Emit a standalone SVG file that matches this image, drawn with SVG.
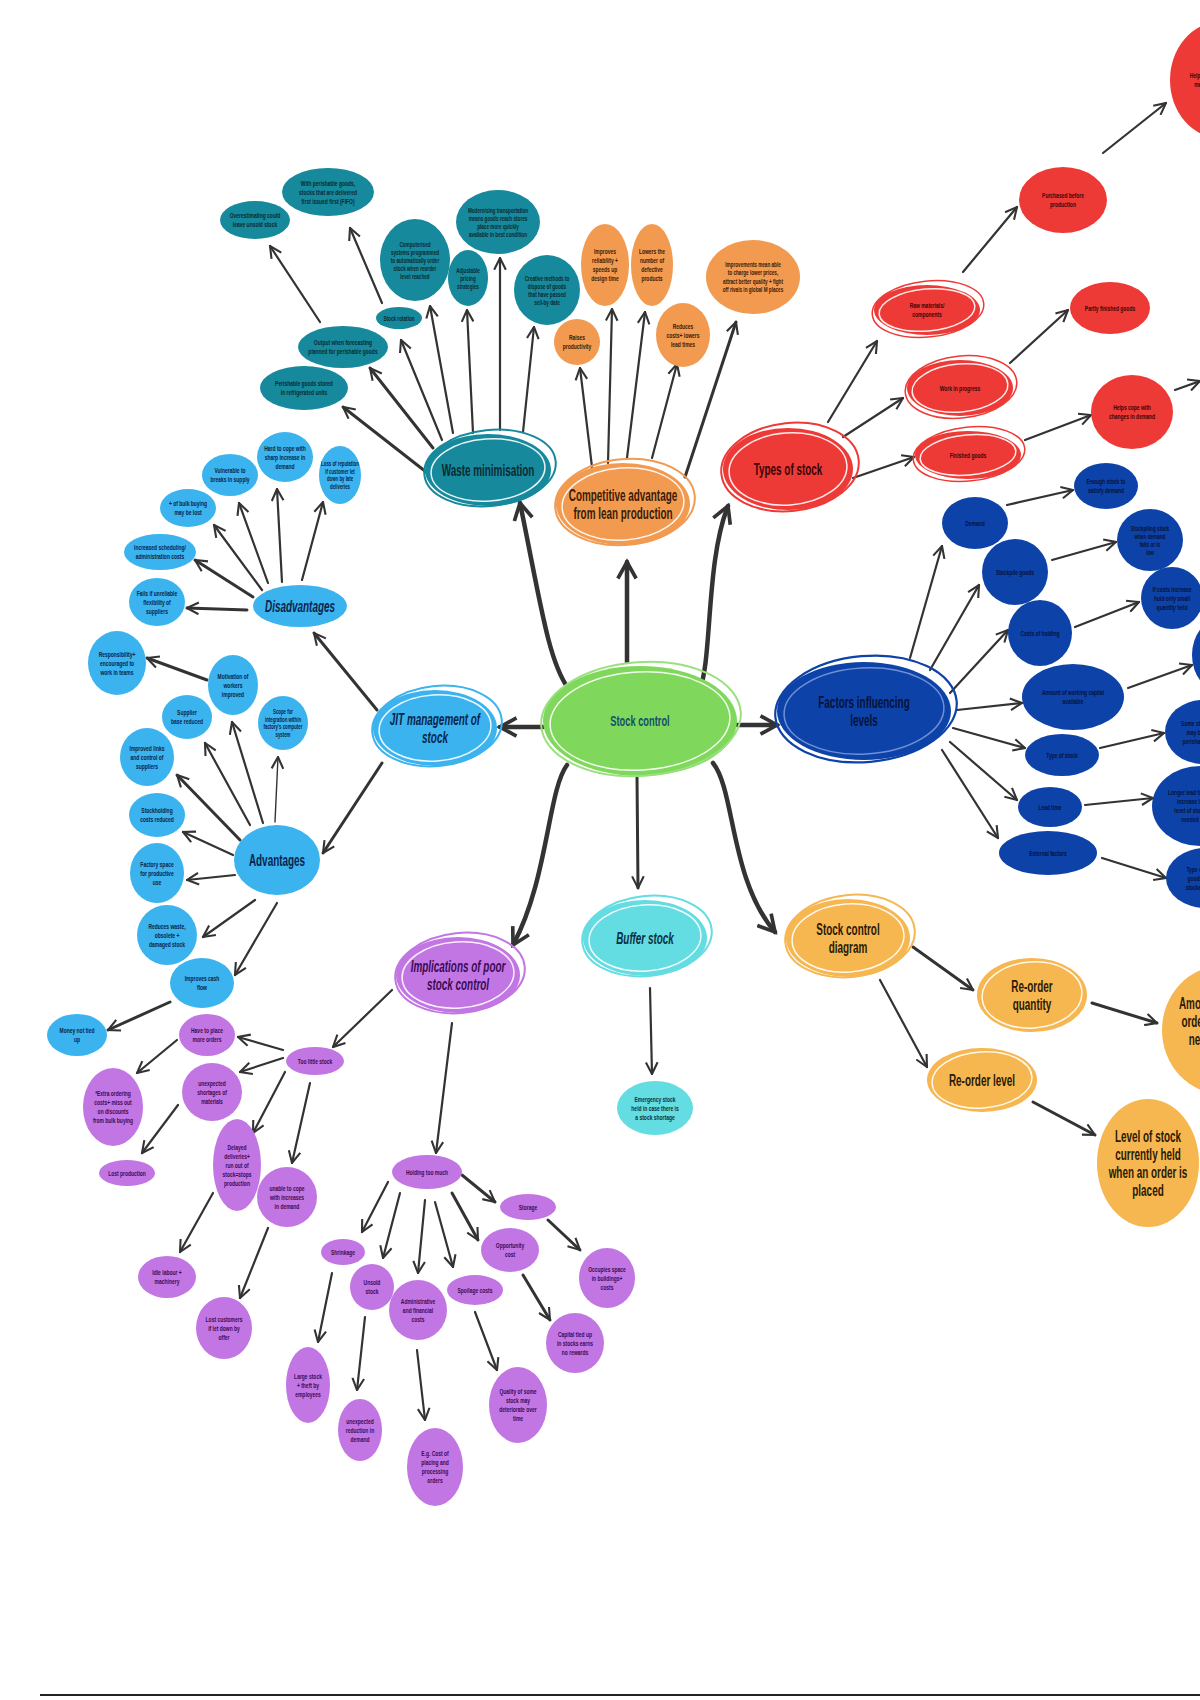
<svg xmlns="http://www.w3.org/2000/svg" width="1200" height="1700" viewBox="0 0 1200 1700">
<defs>
<marker id="ah" viewBox="0 0 12 12" refX="11" refY="6" markerWidth="14" markerHeight="14" markerUnits="userSpaceOnUse" orient="auto"><path d="M1,1 L11,6 L1,11" fill="none" stroke="#333" stroke-width="1.8"/></marker>
<marker id="ahL" viewBox="0 0 12 12" refX="10" refY="6" markerWidth="22" markerHeight="22" markerUnits="userSpaceOnUse" orient="auto"><path d="M1,1 L10,6 L1,11" fill="none" stroke="#333" stroke-width="2"/></marker>
<style>
text{font-family:"Liberation Sans",Arial,sans-serif;font-weight:bold;text-anchor:middle;}
.c{fill:none;stroke:#333;stroke-width:2.2;stroke-linecap:round;marker-end:url(#ah);}
.c3{fill:none;stroke:#333;stroke-width:3;stroke-linecap:round;marker-end:url(#ah);}
.ck{fill:none;stroke:#333;stroke-width:4.5;stroke-linecap:round;marker-end:url(#ahL);}
.teal{fill:#16899c}.tT{fill:#0b2a33}
.or{fill:#f29a50}.tO{fill:#3a1a05}
.red{fill:#ee3a36}.tR{fill:#3a0505}
.navy{fill:#0d43a8}.tN{fill:#061238}
.lb{fill:#3bb3ef}.tL{fill:#08244a}
.gr{fill:#7fd85c}.tG{fill:#14506a}
.cy{fill:#63dce2}.tC{fill:#0c3040}
.pu{fill:#c276e3}.tP{fill:#3a0a55}
.ye{fill:#f6b650}.tY{fill:#2a1a05}
.wr{fill:none;stroke:#fff;stroke-width:1.5;opacity:0.9}
.f7{font-size:7px}.f75{font-size:7.5px}.f8{font-size:8px}.f15{font-size:15px}.f16{font-size:16px}
.it{font-style:italic}
</style>
</defs>
<rect width="1200" height="1700" fill="#fff"/>

<g id="connectors">
<path class="ck" d="M568,688 C548,660 540,600 520,503"/>
<path class="ck" d="M627,662 L627,562"/>
<path class="ck" d="M700,688 C712,660 706,560 728,506"/>
<path class="ck" d="M543,727 L500,727"/>
<path class="ck" d="M737,725 L777,725"/>
<path class="c3" d="M637,776 L638,888"/>
<path class="ck" d="M567,765 C548,790 548,880 513,945"/>
<path class="ck" d="M713,763 C735,790 730,880 775,932"/>
<path class="c" d="M650,988 L652,1074"/>
<path class="c3" d="M430,475 L343,407"/>
<path class="c3" d="M433,448 L370,368"/>
<path class="c" d="M442,440 L401,340"/>
<path class="c" d="M453,433 L430,306"/>
<path class="c" d="M473,433 L467,310"/>
<path class="c" d="M500,430 L500,258"/>
<path class="c" d="M523,432 L534,327"/>
<path class="c" d="M320,322 L270,246"/>
<path class="c" d="M382,303 L350,228"/>
<path class="c" d="M592,467 L580,368"/>
<path class="c" d="M608,463 L612,309"/>
<path class="c" d="M627,458 L645,312"/>
<path class="c" d="M652,458 L677,364"/>
<path class="c3" d="M685,477 L736,322"/>
<path class="c" d="M828,422 L877,341"/>
<path class="c" d="M843,437 L903,398"/>
<path class="c" d="M853,478 L914,457"/>
<path class="c" d="M963,272 L1017,207"/>
<path class="c" d="M1103,153 L1166,103"/>
<path class="c" d="M1010,363 L1068,310"/>
<path class="c" d="M1025,440 L1091,415"/>
<path class="c" d="M1175,390 L1200,381"/>
<path class="c" d="M910,658 L942,546"/>
<path class="c" d="M930,670 L979,585"/>
<path class="c" d="M950,693 L1008,630"/>
<path class="c" d="M957,710 L1022,703"/>
<path class="c" d="M953,728 L1025,748"/>
<path class="c" d="M950,742 L1017,800"/>
<path class="c" d="M942,750 L998,838"/>
<path class="c" d="M1007,505 L1073,490"/>
<path class="c" d="M1052,560 L1116,542"/>
<path class="c" d="M1075,627 L1139,602"/>
<path class="c" d="M1128,688 L1192,665"/>
<path class="c" d="M1100,748 L1164,733"/>
<path class="c" d="M1085,805 L1153,798"/>
<path class="c" d="M1102,858 L1166,878"/>
<path class="c3" d="M377,710 L314,633"/>
<path class="c3" d="M382,763 L323,853"/>
<path class="c3" d="M247,610 L187,608"/>
<path class="c3" d="M253,597 L195,560"/>
<path class="c" d="M262,590 L214,525"/>
<path class="c" d="M268,583 L239,503"/>
<path class="c" d="M282,582 L277,489"/>
<path class="c" d="M302,580 L323,502"/>
<path class="c3" d="M207,680 L147,658"/>
<path class="c" d="M263,823 L232,722"/>
<path class="c" d="M275,822 L278,757" style="stroke-width:1.4"/>
<path class="c" d="M250,825 L205,743"/>
<path class="c3" d="M240,840 L177,775"/>
<path class="c" d="M233,855 L183,832"/>
<path class="c" d="M235,875 L187,880"/>
<path class="c" d="M255,900 L203,937"/>
<path class="c" d="M277,903 L235,975"/>
<path class="c3" d="M170,1002 L108,1030"/>
<path class="c" d="M392,990 L333,1047"/>
<path class="c" d="M452,1023 L436,1153"/>
<path class="c" d="M283,1050 L238,1037"/>
<path class="c" d="M283,1058 L240,1072"/>
<path class="c" d="M285,1072 L253,1133"/>
<path class="c" d="M310,1083 L292,1163"/>
<path class="c" d="M177,1040 L137,1073"/>
<path class="c" d="M178,1105 L142,1153"/>
<path class="c" d="M213,1193 L180,1252"/>
<path class="c" d="M268,1228 L240,1298"/>
<path class="c" d="M388,1182 L362,1232"/>
<path class="c" d="M400,1193 L383,1258"/>
<path class="c" d="M425,1200 L418,1273"/>
<path class="c" d="M435,1202 L453,1267"/>
<path class="c3" d="M452,1193 L478,1240"/>
<path class="c3" d="M462,1175 L495,1202"/>
<path class="c3" d="M548,1220 L580,1250"/>
<path class="c3" d="M523,1275 L550,1320"/>
<path class="c" d="M332,1273 L318,1342"/>
<path class="c" d="M365,1317 L357,1390"/>
<path class="c" d="M417,1350 L425,1420"/>
<path class="c" d="M475,1312 L497,1370"/>
<path class="c3" d="M913,947 L973,990"/>
<path class="c" d="M880,980 L927,1067"/>
<path class="c3" d="M1092,1003 L1157,1023"/>
<path class="c3" d="M1033,1102 L1095,1135"/>
</g>

<g id="stock-control">
<ellipse cx="640" cy="721" rx="97" ry="55" class="gr"/>
<ellipse cx="640" cy="721" rx="90" ry="49" class="wr" transform="rotate(-3 640 721)"/>
<ellipse cx="641" cy="719" rx="100" ry="57" fill="none" stroke="#9be07e" stroke-width="2" transform="rotate(-4 641 719)"/>
<text transform="translate(640,0) scale(.62,1)" class="f15 tG"><tspan x="0" y="726">Stock control</tspan></text>
</g>

<g id="waste-minimisation">
<ellipse cx="488" cy="470" rx="63" ry="36" class="teal"/>
<ellipse cx="488" cy="470" rx="57" ry="31" class="wr" transform="rotate(-4 488 470)"/>
<ellipse cx="490" cy="468" rx="66" ry="38" fill="none" stroke="#16899c" stroke-width="2" transform="rotate(-6 490 468)"/>
<text transform="translate(488,0) scale(.62,1)" class="f16 tT"><tspan x="0" y="476">Waste minimisation</tspan></text>
</g>
<g id="w1"><ellipse cx="304" cy="388" rx="44" ry="22" class="teal"/><text transform="translate(304,0) scale(.62,1)" class="f8 tT"><tspan x="0" y="386.5">Perishable goods stored</tspan><tspan x="0" y="395.5">in refrigerated units</tspan></text></g>
<g id="w2"><ellipse cx="343" cy="347" rx="45" ry="21" class="teal"/><text transform="translate(343,0) scale(.62,1)" class="f8 tT"><tspan x="0" y="345.5">Output when forecasting</tspan><tspan x="0" y="354.5">planned for perishable goods</tspan></text></g>
<g id="w3"><ellipse cx="399" cy="318" rx="23" ry="11" class="teal"/><text transform="translate(399,0) scale(.62,1)" class="f75 tT"><tspan x="0" y="321">Stock rotation</tspan></text></g>
<g id="w4"><ellipse cx="255" cy="220" rx="35" ry="19" class="teal"/><text transform="translate(255,0) scale(.62,1)" class="f8 tT"><tspan x="0" y="218.5">Overestimating could</tspan><tspan x="0" y="227.5">leave unsold stock</tspan></text></g>
<g id="w5"><ellipse cx="328" cy="192" rx="46" ry="24" class="teal"/><text transform="translate(328,0) scale(.62,1)" class="f8 tT"><tspan x="0" y="186">With perishable goods,</tspan><tspan x="0" y="195">stocks that are delivered</tspan><tspan x="0" y="204">first issued first (FIFO)</tspan></text></g>
<g id="w6"><ellipse cx="415" cy="260" rx="35" ry="41" class="teal"/><text transform="translate(415,0) scale(.62,1)" class="f75 tT"><tspan x="0" y="247">Computerised</tspan><tspan x="0" y="255">systems programmed</tspan><tspan x="0" y="263">to automatically order</tspan><tspan x="0" y="271">stock when reorder</tspan><tspan x="0" y="279">level reached</tspan></text></g>
<g id="w7"><ellipse cx="468" cy="278" rx="20" ry="28" class="teal"/><text transform="translate(468,0) scale(.62,1)" class="f75 tT"><tspan x="0" y="272.6">Adjustable</tspan><tspan x="0" y="280.6">pricing</tspan><tspan x="0" y="288.6">strategies</tspan></text></g>
<g id="w8"><ellipse cx="498" cy="222" rx="42" ry="32" class="teal"/><text transform="translate(498,0) scale(.62,1)" class="f75 tT"><tspan x="0" y="212.6">Modernising transportation</tspan><tspan x="0" y="220.6">means goods reach stores</tspan><tspan x="0" y="228.6">place more quickly</tspan><tspan x="0" y="236.6">available in best condition</tspan></text></g>
<g id="w9"><ellipse cx="547" cy="290" rx="33" ry="35" class="teal"/><text transform="translate(547,0) scale(.62,1)" class="f75 tT"><tspan x="0" y="280.6">Creative methods to</tspan><tspan x="0" y="288.6">dispose of goods</tspan><tspan x="0" y="296.6">that have passed</tspan><tspan x="0" y="304.6">sell-by date</tspan></text></g>

<g id="competitive-advantage">
<ellipse cx="623" cy="504" rx="67" ry="41" class="or"/>
<ellipse cx="623" cy="504" rx="61" ry="36" class="wr" transform="rotate(-4 623 504)"/>
<ellipse cx="625" cy="502" rx="70" ry="43" fill="none" stroke="#f29a50" stroke-width="2" transform="rotate(-5 625 502)"/>
<text transform="translate(623,0) scale(.62,1)" class="f16 tO"><tspan x="0" y="501">Competitive advantage</tspan><tspan x="0" y="519">from lean production</tspan></text>
</g>
<g id="o1"><ellipse cx="605" cy="265" rx="24" ry="41" class="or"/><text transform="translate(605,0) scale(.62,1)" class="f8 tO"><tspan x="0" y="254.5">Improves</tspan><tspan x="0" y="263.5">reliability +</tspan><tspan x="0" y="272.5">speeds up</tspan><tspan x="0" y="281.5">design time</tspan></text></g>
<g id="o2"><ellipse cx="652" cy="265" rx="21" ry="41" class="or"/><text transform="translate(652,0) scale(.62,1)" class="f8 tO"><tspan x="0" y="254.5">Lowers the</tspan><tspan x="0" y="263.5">number of</tspan><tspan x="0" y="272.5">defective</tspan><tspan x="0" y="281.5">products</tspan></text></g>
<g id="o3"><ellipse cx="577" cy="342" rx="23" ry="23" class="or"/><text transform="translate(577,0) scale(.62,1)" class="f8 tO"><tspan x="0" y="340.5">Raises</tspan><tspan x="0" y="349.5">productivity</tspan></text></g>
<g id="o4"><ellipse cx="683" cy="335" rx="27" ry="32" class="or"/><text transform="translate(683,0) scale(.62,1)" class="f8 tO"><tspan x="0" y="329">Reduces</tspan><tspan x="0" y="338">costs+ lowers</tspan><tspan x="0" y="347">lead times</tspan></text></g>
<g id="o5"><ellipse cx="753" cy="277" rx="47" ry="37" class="or"/><text transform="translate(753,0) scale(.62,1)" class="f75 tO"><tspan x="0" y="266.9">Improvements mean able</tspan><tspan x="0" y="275.4">to charge lower prices,</tspan><tspan x="0" y="283.9">attract better quality + fight</tspan><tspan x="0" y="292.4">off rivals in global M places</tspan></text></g>

<g id="types-of-stock">
<ellipse cx="788" cy="469" rx="65" ry="41" class="red"/>
<ellipse cx="788" cy="469" rx="59" ry="36" class="wr" transform="rotate(-4 788 469)"/>
<ellipse cx="790" cy="467" rx="69" ry="44" fill="none" stroke="#ee3a36" stroke-width="2" transform="rotate(-6 790 467)"/>
<text transform="translate(788,0) scale(.62,1)" class="f16 tR"><tspan x="0" y="475">Types of stock</tspan></text>
</g>
<g id="r1"><ellipse cx="927" cy="310" rx="53" ry="25" class="red"/><ellipse cx="927" cy="310" rx="48" ry="21" class="wr" transform="rotate(-5 927 310)"/><ellipse cx="928" cy="309" rx="56" ry="28" fill="none" stroke="#ee3a36" stroke-width="1.5" transform="rotate(-6 928 309)"/><text transform="translate(927,0) scale(.62,1)" class="f8 tR"><tspan x="0" y="308.5">Raw materials/</tspan><tspan x="0" y="317.5">components</tspan></text></g>
<g id="r2"><ellipse cx="960" cy="388" rx="53" ry="28" class="red"/><ellipse cx="960" cy="388" rx="48" ry="24" class="wr" transform="rotate(-5 960 388)"/><ellipse cx="961" cy="387" rx="56" ry="31" fill="none" stroke="#ee3a36" stroke-width="1.5" transform="rotate(-6 961 387)"/><text transform="translate(960,0) scale(.62,1)" class="f8 tR"><tspan x="0" y="391">Work in progress</tspan></text></g>
<g id="r3"><ellipse cx="968" cy="455" rx="53" ry="24" class="red"/><ellipse cx="968" cy="455" rx="48" ry="20" class="wr" transform="rotate(-5 968 455)"/><ellipse cx="969" cy="454" rx="56" ry="27" fill="none" stroke="#ee3a36" stroke-width="1.5" transform="rotate(-6 969 454)"/><text transform="translate(968,0) scale(.62,1)" class="f8 tR"><tspan x="0" y="458">Finished goods</tspan></text></g>
<g id="r4"><ellipse cx="1063" cy="200" rx="44" ry="33" class="red"/><text transform="translate(1063,0) scale(.62,1)" class="f8 tR"><tspan x="0" y="198.5">Purchased before</tspan><tspan x="0" y="207.5">production</tspan></text></g>
<g id="r5"><ellipse cx="1110" cy="308" rx="40" ry="26" class="red"/><text transform="translate(1110,0) scale(.62,1)" class="f8 tR"><tspan x="0" y="311">Partly finished goods</tspan></text></g>
<g id="r6"><ellipse cx="1132" cy="412" rx="41" ry="37" class="red"/><text transform="translate(1132,0) scale(.62,1)" class="f8 tR"><tspan x="0" y="410.5">Helps cope with</tspan><tspan x="0" y="419.5">changes in demand</tspan></text></g>
<g id="r7"><ellipse cx="1220" cy="80" rx="50" ry="58" class="red"/><text transform="translate(1210,0) scale(.62,1)" class="f8 tR"><tspan x="0" y="78.5">Helps production</tspan><tspan x="0" y="87.5">maintain flow</tspan></text></g>

<g id="factors-influencing">
<ellipse cx="864" cy="711" rx="87" ry="49" class="navy"/>
<ellipse cx="864" cy="711" rx="80" ry="43" fill="none" stroke="#6f8fd6" stroke-width="1.5" transform="rotate(-3 864 711)"/>
<ellipse cx="866" cy="709" rx="91" ry="53" fill="none" stroke="#0d43a8" stroke-width="2.2" transform="rotate(-5 866 709)"/>
<text transform="translate(864,0) scale(.62,1)" class="f16 tN"><tspan x="0" y="708">Factors influencing</tspan><tspan x="0" y="726">levels</tspan></text>
</g>
<g id="b1"><ellipse cx="975" cy="523" rx="33" ry="26" class="navy"/><text transform="translate(975,0) scale(.62,1)" class="f8 tN"><tspan x="0" y="526">Demand</tspan></text></g>
<g id="b2"><ellipse cx="1015" cy="572" rx="33" ry="33" class="navy"/><text transform="translate(1015,0) scale(.62,1)" class="f8 tN"><tspan x="0" y="575">Stockpile goods</tspan></text></g>
<g id="b3"><ellipse cx="1040" cy="633" rx="32" ry="33" class="navy"/><text transform="translate(1040,0) scale(.62,1)" class="f8 tN"><tspan x="0" y="636">Costs of holding</tspan></text></g>
<g id="b4"><ellipse cx="1073" cy="697" rx="51" ry="33" class="navy"/><text transform="translate(1073,0) scale(.62,1)" class="f8 tN"><tspan x="0" y="695.5">Amount of working capital</tspan><tspan x="0" y="704.5">available</tspan></text></g>
<g id="b5"><ellipse cx="1062" cy="755" rx="37" ry="21" class="navy"/><text transform="translate(1062,0) scale(.62,1)" class="f8 tN"><tspan x="0" y="758">Type of stock</tspan></text></g>
<g id="b6"><ellipse cx="1050" cy="807" rx="32" ry="20" class="navy"/><text transform="translate(1050,0) scale(.62,1)" class="f8 tN"><tspan x="0" y="810">Lead time</tspan></text></g>
<g id="b7"><ellipse cx="1048" cy="853" rx="49" ry="22" class="navy"/><text transform="translate(1048,0) scale(.62,1)" class="f8 tN"><tspan x="0" y="856">External factors</tspan></text></g>
<g id="b8"><ellipse cx="1106" cy="486" rx="32" ry="23" class="navy"/><text transform="translate(1106,0) scale(.62,1)" class="f8 tN"><tspan x="0" y="484.5">Enough stock to</tspan><tspan x="0" y="493.5">satisfy demand</tspan></text></g>
<g id="b9"><ellipse cx="1150" cy="540" rx="33" ry="31" class="navy"/><text transform="translate(1150,0) scale(.62,1)" class="f75 tN"><tspan x="0" y="530.6">Stockpiling stock</tspan><tspan x="0" y="538.6">when demand</tspan><tspan x="0" y="546.6">falls or is</tspan><tspan x="0" y="554.6">low</tspan></text></g>
<g id="b10"><ellipse cx="1172" cy="598" rx="31" ry="31" class="navy"/><text transform="translate(1172,0) scale(.62,1)" class="f8 tN"><tspan x="0" y="592">If costs increase</tspan><tspan x="0" y="601">hold only small</tspan><tspan x="0" y="610">quantity held</tspan></text></g>
<g id="b11"><ellipse cx="1222" cy="655" rx="30" ry="37" class="navy"/></g>
<g id="b12"><ellipse cx="1203" cy="732" rx="38" ry="32" class="navy"/><text transform="translate(1195,0) scale(.62,1)" class="f8 tN"><tspan x="0" y="726">Some stock</tspan><tspan x="0" y="735">may be</tspan><tspan x="0" y="744">perishable</tspan></text></g>
<g id="b13"><ellipse cx="1200" cy="806" rx="48" ry="40" class="navy"/><text transform="translate(1190,0) scale(.62,1)" class="f8 tN"><tspan x="0" y="795.5">Longer lead time =</tspan><tspan x="0" y="804.5">increase in</tspan><tspan x="0" y="813.5">level of stock</tspan><tspan x="0" y="822.5">needed</tspan></text></g>
<g id="b14"><ellipse cx="1206" cy="878" rx="40" ry="30" class="navy"/><text transform="translate(1195,0) scale(.62,1)" class="f8 tN"><tspan x="0" y="872">Type of</tspan><tspan x="0" y="881">goods</tspan><tspan x="0" y="890">stocked</tspan></text></g>

<g id="jit">
<ellipse cx="435" cy="728" rx="62" ry="38" class="lb"/>
<ellipse cx="435" cy="728" rx="56" ry="33" class="wr" transform="rotate(-4 435 728)"/>
<ellipse cx="437" cy="726" rx="65" ry="40" fill="none" stroke="#3bb3ef" stroke-width="2" transform="rotate(-6 437 726)"/>
<text transform="translate(435,0) scale(.62,1)" class="f16 tL it"><tspan x="0" y="725">JIT management of</tspan><tspan x="0" y="743">stock</tspan></text>
</g>
<g id="disadvantages"><ellipse cx="300" cy="606" rx="47" ry="21" class="lb"/><text transform="translate(300,0) scale(.62,1)" class="f16 tL it"><tspan x="0" y="612">Disadvantages</tspan></text></g>
<g id="advantages"><ellipse cx="277" cy="860" rx="43" ry="35" class="lb"/><text transform="translate(277,0) scale(.62,1)" class="f16 tL"><tspan x="0" y="866">Advantages</tspan></text></g>
<g id="d1"><ellipse cx="157" cy="602" rx="28" ry="24" class="lb"/><text transform="translate(157,0) scale(.62,1)" class="f8 tL"><tspan x="0" y="596">Fails if unreliable</tspan><tspan x="0" y="605">flexibility of</tspan><tspan x="0" y="614">suppliers</tspan></text></g>
<g id="d2"><ellipse cx="160" cy="552" rx="36" ry="18" class="lb"/><text transform="translate(160,0) scale(.62,1)" class="f8 tL"><tspan x="0" y="550.5">Increased scheduling/</tspan><tspan x="0" y="559.5">administration costs</tspan></text></g>
<g id="d3"><ellipse cx="188" cy="508" rx="28" ry="19" class="lb"/><text transform="translate(188,0) scale(.62,1)" class="f8 tL"><tspan x="0" y="506.5">+ of bulk buying</tspan><tspan x="0" y="515.5">may be lost</tspan></text></g>
<g id="d4"><ellipse cx="230" cy="475" rx="28" ry="21" class="lb"/><text transform="translate(230,0) scale(.62,1)" class="f8 tL"><tspan x="0" y="473.5">Vulnerable to</tspan><tspan x="0" y="482.5">breaks in supply</tspan></text></g>
<g id="d5"><ellipse cx="285" cy="457" rx="28" ry="25" class="lb"/><text transform="translate(285,0) scale(.62,1)" class="f8 tL"><tspan x="0" y="451">Hard to cope with</tspan><tspan x="0" y="460">sharp increase in</tspan><tspan x="0" y="469">demand</tspan></text></g>
<g id="d6"><ellipse cx="340" cy="475" rx="21" ry="29" class="lb"/><text transform="translate(340,0) scale(.62,1)" class="f7 tL"><tspan x="0" y="466.2">Loss of reputation</tspan><tspan x="0" y="473.7">if customer let</tspan><tspan x="0" y="481.2">down by late</tspan><tspan x="0" y="488.7">deliveries</tspan></text></g>
<g id="a1"><ellipse cx="117" cy="663" rx="29" ry="32" class="lb"/><text transform="translate(117,0) scale(.62,1)" class="f8 tL"><tspan x="0" y="657">Responsibility+</tspan><tspan x="0" y="666">encouraged to</tspan><tspan x="0" y="675">work in teams</tspan></text></g>
<g id="a2"><ellipse cx="233" cy="685" rx="25" ry="30" class="lb"/><text transform="translate(233,0) scale(.62,1)" class="f8 tL"><tspan x="0" y="679">Motivation of</tspan><tspan x="0" y="688">workers</tspan><tspan x="0" y="697">improved</tspan></text></g>
<g id="a3"><ellipse cx="283" cy="723" rx="25" ry="27" class="lb"/><text transform="translate(283,0) scale(.62,1)" class="f7 tL"><tspan x="0" y="714.2">Scope for</tspan><tspan x="0" y="721.7">integration within</tspan><tspan x="0" y="729.2">factory's computer</tspan><tspan x="0" y="736.7">system</tspan></text></g>
<g id="a4"><ellipse cx="187" cy="717" rx="25" ry="22" class="lb"/><text transform="translate(187,0) scale(.62,1)" class="f8 tL"><tspan x="0" y="715.5">Supplier</tspan><tspan x="0" y="724.5">base reduced</tspan></text></g>
<g id="a5"><ellipse cx="147" cy="757" rx="27" ry="29" class="lb"/><text transform="translate(147,0) scale(.62,1)" class="f8 tL"><tspan x="0" y="751">Improved links</tspan><tspan x="0" y="760">and control of</tspan><tspan x="0" y="769">suppliers</tspan></text></g>
<g id="a6"><ellipse cx="157" cy="815" rx="28" ry="22" class="lb"/><text transform="translate(157,0) scale(.62,1)" class="f8 tL"><tspan x="0" y="813.5">Stockholding</tspan><tspan x="0" y="822.5">costs reduced</tspan></text></g>
<g id="a7"><ellipse cx="157" cy="873" rx="27" ry="30" class="lb"/><text transform="translate(157,0) scale(.62,1)" class="f8 tL"><tspan x="0" y="867">Factory space</tspan><tspan x="0" y="876">for productive</tspan><tspan x="0" y="885">use</tspan></text></g>
<g id="a8"><ellipse cx="167" cy="935" rx="30" ry="30" class="lb"/><text transform="translate(167,0) scale(.62,1)" class="f8 tL"><tspan x="0" y="929">Reduces waste,</tspan><tspan x="0" y="938">obsolete +</tspan><tspan x="0" y="947">damaged stock</tspan></text></g>
<g id="a9"><ellipse cx="202" cy="983" rx="32" ry="25" class="lb"/><text transform="translate(202,0) scale(.62,1)" class="f8 tL"><tspan x="0" y="981.5">Improves cash</tspan><tspan x="0" y="990.5">flow</tspan></text></g>
<g id="a10"><ellipse cx="77" cy="1035" rx="30" ry="21" class="lb"/><text transform="translate(77,0) scale(.62,1)" class="f8 tL"><tspan x="0" y="1033.5">Money not tied</tspan><tspan x="0" y="1042.5">up</tspan></text></g>

<g id="buffer-stock">
<ellipse cx="645" cy="938" rx="62" ry="38" class="cy"/>
<ellipse cx="645" cy="938" rx="56" ry="33" class="wr" transform="rotate(-4 645 938)"/>
<ellipse cx="647" cy="936" rx="65" ry="40" fill="none" stroke="#63dce2" stroke-width="2" transform="rotate(-6 647 936)"/>
<text transform="translate(645,0) scale(.62,1)" class="f16 tC it"><tspan x="0" y="944">Buffer stock</tspan></text>
</g>
<g id="emergency"><ellipse cx="655" cy="1108" rx="38" ry="27" class="cy"/><text transform="translate(655,0) scale(.62,1)" class="f8 tC"><tspan x="0" y="1102">Emergency stock</tspan><tspan x="0" y="1111">held in case there is</tspan><tspan x="0" y="1120">a stock shortage</tspan></text></g>

<g id="implications">
<ellipse cx="458" cy="975" rx="62" ry="38" class="pu"/>
<ellipse cx="458" cy="975" rx="56" ry="33" class="wr" transform="rotate(-4 458 975)"/>
<ellipse cx="460" cy="973" rx="65" ry="40" fill="none" stroke="#c276e3" stroke-width="2" transform="rotate(-6 460 973)"/>
<text transform="translate(458,0) scale(.62,1)" class="f16 tP it"><tspan x="0" y="972">Implications of poor</tspan><tspan x="0" y="990">stock control</tspan></text>
</g>
<g id="p1"><ellipse cx="315" cy="1061" rx="29" ry="14" class="pu"/><text transform="translate(315,0) scale(.62,1)" class="f8 tP"><tspan x="0" y="1064">Too little stock</tspan></text></g>
<g id="p2"><ellipse cx="207" cy="1035" rx="28" ry="21" class="pu"/><text transform="translate(207,0) scale(.62,1)" class="f8 tP"><tspan x="0" y="1033.5">Have to place</tspan><tspan x="0" y="1042.5">more orders</tspan></text></g>
<g id="p3"><ellipse cx="212" cy="1092" rx="30" ry="29" class="pu"/><text transform="translate(212,0) scale(.62,1)" class="f8 tP"><tspan x="0" y="1086">unexpected</tspan><tspan x="0" y="1095">shortages of</tspan><tspan x="0" y="1104">materials</tspan></text></g>
<g id="p4"><ellipse cx="113" cy="1107" rx="30" ry="39" class="pu"/><text transform="translate(113,0) scale(.62,1)" class="f8 tP"><tspan x="0" y="1096.5">*Extra ordering</tspan><tspan x="0" y="1105.5">costs+ miss out</tspan><tspan x="0" y="1114.5">on discounts</tspan><tspan x="0" y="1123.5">from bulk buying</tspan></text></g>
<g id="p5"><ellipse cx="127" cy="1173" rx="28" ry="13" class="pu"/><text transform="translate(127,0) scale(.62,1)" class="f8 tP"><tspan x="0" y="1176">Lost production</tspan></text></g>
<g id="p6"><ellipse cx="237" cy="1165" rx="24" ry="46" class="pu"/><text transform="translate(237,0) scale(.62,1)" class="f8 tP"><tspan x="0" y="1150">Delayed</tspan><tspan x="0" y="1159">deliveries+</tspan><tspan x="0" y="1168">run out of</tspan><tspan x="0" y="1177">stock=stops</tspan><tspan x="0" y="1186">production</tspan></text></g>
<g id="p7"><ellipse cx="287" cy="1197" rx="30" ry="30" class="pu"/><text transform="translate(287,0) scale(.62,1)" class="f8 tP"><tspan x="0" y="1191">unable to cope</tspan><tspan x="0" y="1200">with increases</tspan><tspan x="0" y="1209">in demand</tspan></text></g>
<g id="p8"><ellipse cx="167" cy="1277" rx="29" ry="21" class="pu"/><text transform="translate(167,0) scale(.62,1)" class="f8 tP"><tspan x="0" y="1275.5">Idle labour +</tspan><tspan x="0" y="1284.5">machinery</tspan></text></g>
<g id="p9"><ellipse cx="224" cy="1328" rx="28" ry="31" class="pu"/><text transform="translate(224,0) scale(.62,1)" class="f8 tP"><tspan x="0" y="1322">Lost customers</tspan><tspan x="0" y="1331">if let down by</tspan><tspan x="0" y="1340">offer</tspan></text></g>
<g id="holding"><ellipse cx="427" cy="1172" rx="35" ry="17" class="pu"/><text transform="translate(427,0) scale(.62,1)" class="f8 tP"><tspan x="0" y="1175">Holding too much</tspan></text></g>
<g id="h1"><ellipse cx="528" cy="1207" rx="28" ry="13" class="pu"/><text transform="translate(528,0) scale(.62,1)" class="f8 tP"><tspan x="0" y="1210">Storage</tspan></text></g>
<g id="h2"><ellipse cx="343" cy="1252" rx="22" ry="13" class="pu"/><text transform="translate(343,0) scale(.62,1)" class="f8 tP"><tspan x="0" y="1255">Shrinkage</tspan></text></g>
<g id="h3"><ellipse cx="372" cy="1287" rx="22" ry="23" class="pu"/><text transform="translate(372,0) scale(.62,1)" class="f8 tP"><tspan x="0" y="1285.5">Unsold</tspan><tspan x="0" y="1294.5">stock</tspan></text></g>
<g id="h4"><ellipse cx="418" cy="1310" rx="29" ry="30" class="pu"/><text transform="translate(418,0) scale(.62,1)" class="f8 tP"><tspan x="0" y="1304">Administrative</tspan><tspan x="0" y="1313">and financial</tspan><tspan x="0" y="1322">costs</tspan></text></g>
<g id="h5"><ellipse cx="475" cy="1290" rx="28" ry="15" class="pu"/><text transform="translate(475,0) scale(.62,1)" class="f8 tP"><tspan x="0" y="1293">Spoilage costs</tspan></text></g>
<g id="h6"><ellipse cx="510" cy="1250" rx="29" ry="22" class="pu"/><text transform="translate(510,0) scale(.62,1)" class="f8 tP"><tspan x="0" y="1248.5">Opportunity</tspan><tspan x="0" y="1257.5">cost</tspan></text></g>
<g id="h7"><ellipse cx="607" cy="1278" rx="28" ry="30" class="pu"/><text transform="translate(607,0) scale(.62,1)" class="f8 tP"><tspan x="0" y="1272">Occupies space</tspan><tspan x="0" y="1281">in buildings+</tspan><tspan x="0" y="1290">costs</tspan></text></g>
<g id="h8"><ellipse cx="575" cy="1343" rx="29" ry="30" class="pu"/><text transform="translate(575,0) scale(.62,1)" class="f8 tP"><tspan x="0" y="1337">Capital tied up</tspan><tspan x="0" y="1346">in stocks earns</tspan><tspan x="0" y="1355">no rewards</tspan></text></g>
<g id="h9"><ellipse cx="308" cy="1385" rx="22" ry="38" class="pu"/><text transform="translate(308,0) scale(.62,1)" class="f8 tP"><tspan x="0" y="1379">Large stock</tspan><tspan x="0" y="1388">+ theft by</tspan><tspan x="0" y="1397">employees</tspan></text></g>
<g id="h10"><ellipse cx="360" cy="1430" rx="22" ry="31" class="pu"/><text transform="translate(360,0) scale(.62,1)" class="f8 tP"><tspan x="0" y="1424">unexpected</tspan><tspan x="0" y="1433">reduction in</tspan><tspan x="0" y="1442">demand</tspan></text></g>
<g id="h11"><ellipse cx="435" cy="1467" rx="28" ry="39" class="pu"/><text transform="translate(435,0) scale(.62,1)" class="f8 tP"><tspan x="0" y="1456.5">E.g. Cost of</tspan><tspan x="0" y="1465.5">placing and</tspan><tspan x="0" y="1474.5">processing</tspan><tspan x="0" y="1483.5">orders</tspan></text></g>
<g id="h12"><ellipse cx="518" cy="1405" rx="29" ry="38" class="pu"/><text transform="translate(518,0) scale(.62,1)" class="f8 tP"><tspan x="0" y="1394.5">Quality of some</tspan><tspan x="0" y="1403.5">stock may</tspan><tspan x="0" y="1412.5">deteriorate over</tspan><tspan x="0" y="1421.5">time</tspan></text></g>

<g id="stock-control-diagram">
<ellipse cx="848" cy="938" rx="62" ry="39" class="ye"/>
<ellipse cx="848" cy="938" rx="56" ry="34" class="wr" transform="rotate(-4 848 938)"/>
<ellipse cx="850" cy="936" rx="65" ry="41" fill="none" stroke="#f6b650" stroke-width="2" transform="rotate(-6 850 936)"/>
<text transform="translate(848,0) scale(.62,1)" class="f16 tY"><tspan x="0" y="935">Stock control</tspan><tspan x="0" y="953">diagram</tspan></text>
</g>
<g id="reorder-quantity"><ellipse cx="1032" cy="995" rx="55" ry="37" class="ye"/><ellipse cx="1032" cy="995" rx="50" ry="33" class="wr" transform="rotate(-4 1032 995)"/><text transform="translate(1032,0) scale(.62,1)" class="f16 tY"><tspan x="0" y="992">Re-order</tspan><tspan x="0" y="1010">quantity</tspan></text></g>
<g id="reorder-level"><ellipse cx="982" cy="1080" rx="55" ry="32" class="ye"/><ellipse cx="982" cy="1080" rx="50" ry="28" class="wr" transform="rotate(-4 982 1080)"/><text transform="translate(982,0) scale(.62,1)" class="f16 tY"><tspan x="0" y="1086">Re-order level</tspan></text></g>
<g id="level-of-stock"><ellipse cx="1148" cy="1163" rx="51" ry="64" class="ye"/><text transform="translate(1148,0) scale(.62,1)" class="f16 tY"><tspan x="0" y="1142">Level of stock</tspan><tspan x="0" y="1160">currently held</tspan><tspan x="0" y="1178">when an order is</tspan><tspan x="0" y="1196">placed</tspan></text></g>
<g id="amount"><ellipse cx="1222" cy="1030" rx="60" ry="64" class="ye"/><text transform="translate(1218,0) scale(.62,1)" class="f16 tY"><tspan x="0" y="1009">Amount of stock</tspan><tspan x="0" y="1027">ordered when a</tspan><tspan x="0" y="1045">new order is</tspan><tspan x="0" y="1063">placed</tspan></text></g>

<line x1="40" y1="1695" x2="1200" y2="1695" stroke="#222" stroke-width="2"/>
</svg>
